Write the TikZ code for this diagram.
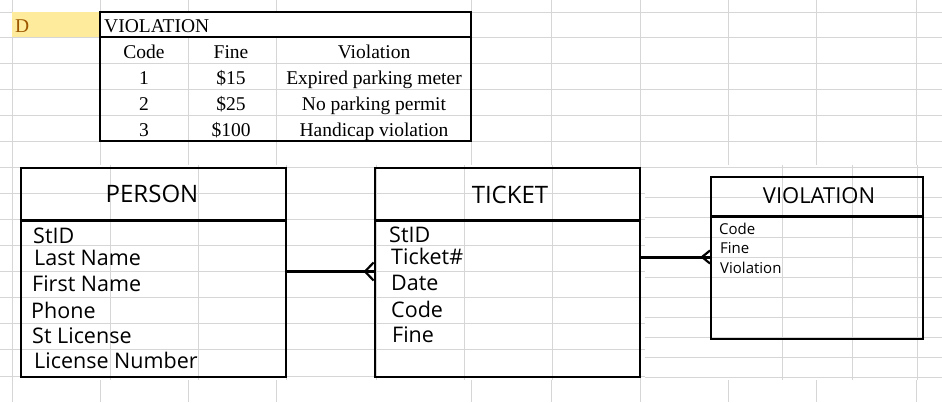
\documentclass[tikz,border=0pt]{standalone}
\usepackage{fontspec}
\setmainfont{Liberation Serif}
\newfontfamily\erfont{Open Sans}
\definecolor{gridc}{HTML}{D6D6D6}
\definecolor{neutfill}{HTML}{FFEB9C}
\definecolor{neuttext}{HTML}{9C5700}
\tikzset{
  gridline/.style={draw=gridc, line width=0.9pt},
  entity/.style={draw=black, line width=2.8pt, inner sep=0pt, fill=none},
  entitythin/.style={draw=black, line width=2pt, inner sep=0pt, fill=none},
  hdrline/.style={line width=3pt},
  hdrlinethin/.style={line width=2.4pt},
  etitle/.style={font=\erfont\fontsize{24}{28}\selectfont, anchor=base, inner sep=0pt},
  eattr/.style={font=\erfont\fontsize{21.5}{25}\selectfont, anchor=base west, inner sep=0pt},
  vtitle/.style={font=\erfont\fontsize{22}{26}\selectfont, anchor=base, inner sep=0pt},
  vattr/.style={font=\erfont\fontsize{15}{18}\selectfont, anchor=base west, inner sep=0pt},
  conn/.style={line width=3pt},
  crow/.style={line width=2.2pt},
  tcell/.style={font=\fontsize{19.5}{23}\selectfont, anchor=base, inner sep=0pt},
}
\begin{document}
\begin{tikzpicture}[x=1pt,y=-1pt]
\useasboundingbox (0,0) rectangle (942,402);
\fill[white] (0,0) rectangle (942,402);
% ---------- sheet grid, top part ----------
\begin{scope}
  \clip (0,0) rectangle (942,165);
  \foreach \y in {12,37,63,89,115,141} \draw[gridline] (0,\y) -- (942,\y);
  \foreach \x in {12,100,188,276,471,551,640,728,816,916} \draw[gridline] (\x,0) -- (\x,165);
\end{scope}
% ---------- bottom strip ----------
\begin{scope}
  \clip (0,380) rectangle (942,402);
  \foreach \x in {12,100,188,276,471,551,640,728,816,916} \draw[gridline] (\x,380) -- (\x,402);
\end{scope}
% ---------- embedded picture grid, left ----------
\begin{scope}
  \clip (0,165) rectangle (645,380);
  \foreach \y in {167,193,219,245,271,297,323,349,376} \draw[gridline] (0,\y) -- (645,\y);
  \foreach \x in {12,110,198,286,376,464,552,640} \draw[gridline] (\x,165) -- (\x,380);
\end{scope}
% ---------- embedded picture grid, right ----------
\begin{scope}
  \clip (645,165) rectangle (942,380);
  \foreach \y in {167,197,217,237,257,277,297,317,337,357,377} \draw[gridline] (645,\y) -- (942,\y);
  \foreach \x in {782,852,917} \draw[gridline] (\x,165) -- (\x,380);
\end{scope}
% ---------- yellow cell ----------
\fill[neutfill] (12,12) rectangle (100,37);
\node[font=\fontsize{19.5}{23}\selectfont, text=neuttext, anchor=base west, inner sep=0pt] (dcell) at (15,32) {D};
% ---------- violation table ----------
\fill[white] (100,12) rectangle (471,37);
\draw[line width=1.3pt] (100,12) rectangle (471,141);
\draw[line width=1.3pt] (100,37) -- (471,37);
\node[tcell, anchor=base west] (thead) at (104,32) {VIOLATION};
\node[tcell] (h1) at (144,58.5) {Code};
\node[tcell] (h2) at (231,58.5) {Fine};
\node[tcell] (h3) at (374,58.5) {Violation};
\node[tcell] (r11) at (144,84.5) {1};
\node[tcell] (r12) at (231,84.5) {\$15};
\node[tcell] (r13) at (374,84.5) {Expired parking meter};
\node[tcell] (r21) at (144,110.5) {2};
\node[tcell] (r22) at (231,110.5) {\$25};
\node[tcell] (r23) at (374,110.5) {No parking permit};
\node[tcell] (r31) at (144,136) {3};
\node[tcell] (r32) at (231,136) {\$100};
\node[tcell] (r33) at (374,136) {Handicap violation};
% ---------- PERSON ----------
\node[entity, minimum width=265pt, minimum height=209pt] (person) at (153.5,272.5) {};
\draw[hdrline] (person.west |- 0,220) -- (person.east |- 0,220);
\node[etitle] (persont) at (152,202) {PERSON};
\node[eattr] (p1) at (33,243) {StID};
\node[eattr] (p2) at (34,265) {Last Name};
\node[eattr] (p3) at (32,291) {First Name};
\node[eattr] (p4) at (31,318) {Phone};
\node[eattr] (p5) at (32,343) {St License};
\node[eattr] (p6) at (34,368) {License Number};
% ---------- TICKET ----------
\node[entity, minimum width=265pt, minimum height=209pt] (ticket) at (507.5,272.5) {};
\draw[hdrline] (ticket.west |- 0,220) -- (ticket.east |- 0,220);
\node[etitle] (tickett) at (510,203) {TICKET};
\node[eattr] (t1) at (389,242) {StID};
\node[eattr] (t2) at (391,264) {Ticket\#};
\node[eattr] (t3) at (391,290) {Date};
\node[eattr] (t4) at (391,317) {Code};
\node[eattr] (t5) at (392,342) {Fine};
% ---------- VIOLATION entity ----------
\node[entitythin, minimum width=212pt, minimum height=162pt] (viol) at (817,258) {};
\draw[hdrlinethin] (viol.west |- 0,216.5) -- (viol.east |- 0,216.5);
\node[vtitle] (violt) at (819,203) {VIOLATION};
\node[vattr] (v1) at (719,234) {Code};
\node[vattr] (v2) at (720,253) {Fine};
\node[vattr] (v3) at (720,273) {Violation};
% ---------- connectors ----------
\coordinate (crowA) at (365,271.5);
\draw[conn] (person.east |- crowA) -- (ticket.west |- crowA);
\draw[crow] (crowA) -- (ticket.west |- 0,262.5);
\draw[crow] (crowA) -- (ticket.west |- 0,280.5);
\coordinate (crowB) at (702,257);
\draw[conn] (ticket.east |- crowB) -- (viol.west |- crowB);
\draw[crow] (crowB) -- (viol.west |- 0,250.5);
\draw[crow] (crowB) -- (viol.west |- 0,263.5);
\end{tikzpicture}
\end{document}
